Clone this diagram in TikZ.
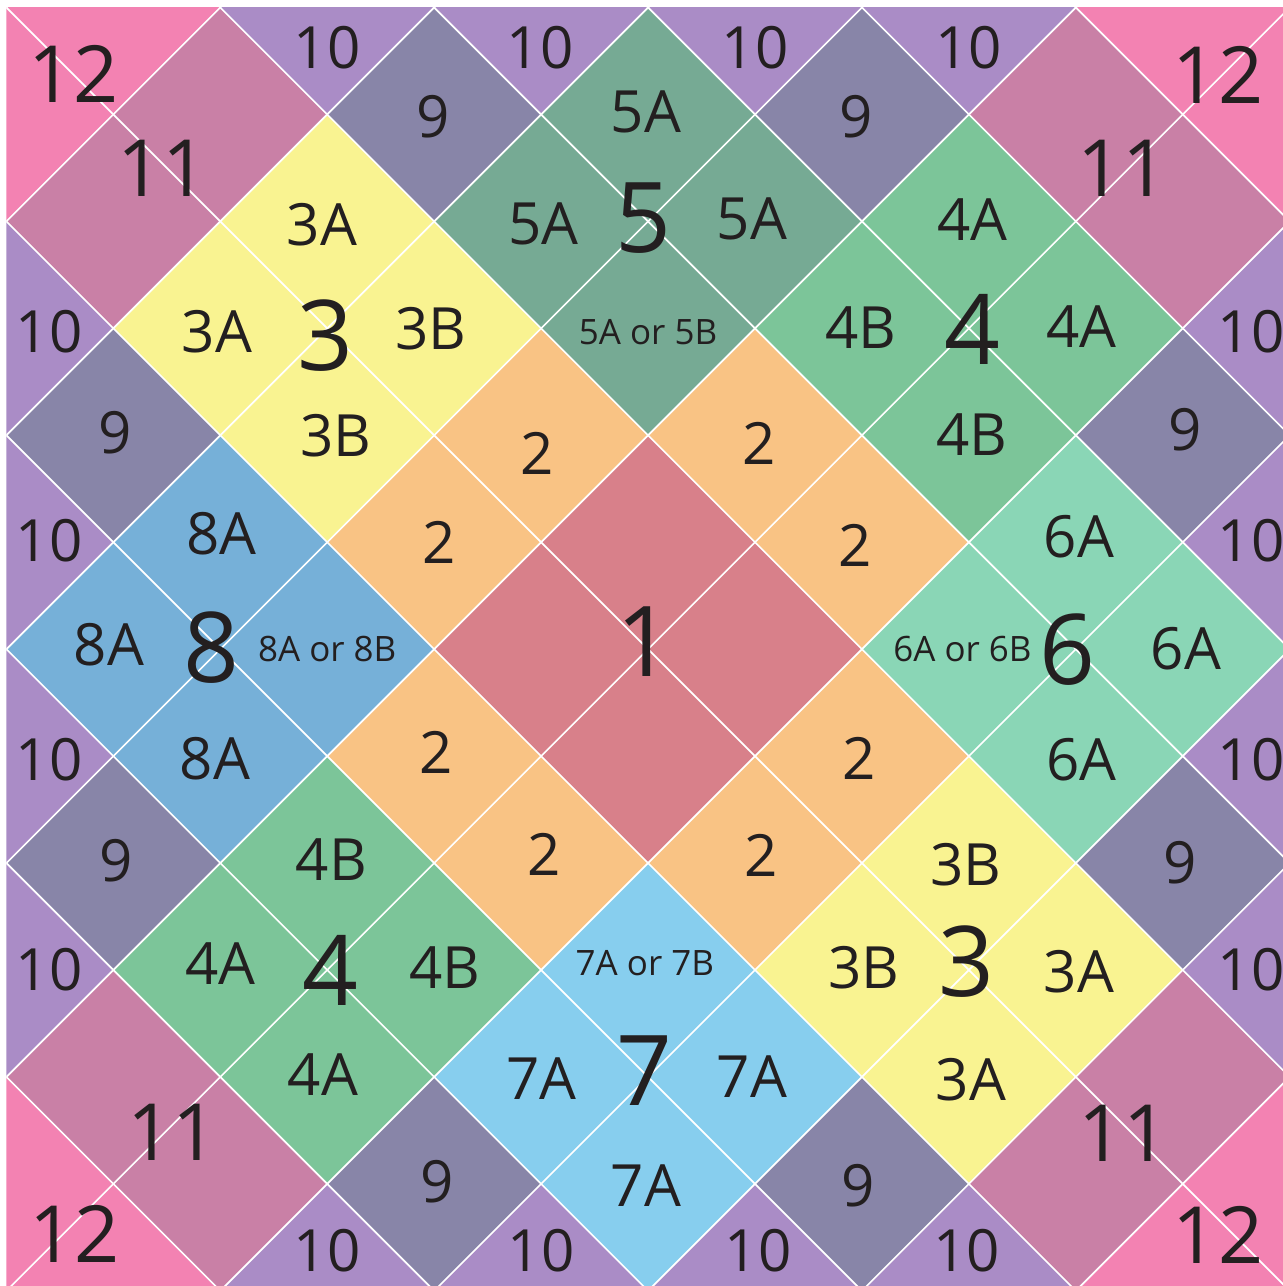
\documentclass[tikz,border=0pt]{standalone}
\usepackage{fontspec}
\setmainfont{Open Sans}

\definecolor{rose1}{HTML}{D8808A}
\definecolor{orange2}{HTML}{F9C384}
\definecolor{yellow3}{HTML}{F9F391}
\definecolor{green4}{HTML}{7CC599}
\definecolor{sage5}{HTML}{76AA94}
\definecolor{mint6}{HTML}{8AD6B6}
\definecolor{sky7}{HTML}{87CEEE}
\definecolor{blue8}{HTML}{76B0D8}
\definecolor{slate9}{HTML}{8885A8}
\definecolor{lilac10}{HTML}{AA8CC6}
\definecolor{mauve11}{HTML}{C980A6}
\definecolor{pink12}{HTML}{F382B2}
\definecolor{ink}{HTML}{231F20}

\begin{document}
\begin{tikzpicture}[x=1cm, y=-1cm,
  tile/.pic={\fill (-1,0) -- (0,-1) -- (1,0) -- (0,1) -- cycle;},
  grid/.style={white, line width=0.45pt},
  every node/.style={inner sep=0pt, text=ink},
  lbl/.style={font=\fontsize{15.5}{18}\selectfont},
  orlbl/.style={font=\fontsize{9.3}{11}\selectfont},
  blocknum/.style={font=\fontsize{26}{30}\selectfont},
  cornernum/.style={font=\fontsize{21}{24}\selectfont}]
  \fill[white] (-6.06,-6.07) rectangle (5.935,5.955);
  \useasboundingbox (-6.06,-6.07) rectangle (5.935,5.955);

  \begin{scope}
    \clip (-6,-6) rectangle (6,6);
    \foreach \p in {(0,-1),(-1,0),(1,0),(0,1)} \pic[fill=rose1] at \p {tile};
    \foreach \p in {(-1,-2),(-2,-1),(1,-2),(2,-1),(-2,1),(-1,2),(2,1),(1,2)} \pic[fill=orange2] at \p {tile};
    \foreach \p in {(-3,-4),(-4,-3),(-2,-3),(-3,-2),(3,2),(2,3),(4,3),(3,4)} \pic[fill=yellow3] at \p {tile};
    \foreach \p in {(3,-4),(2,-3),(4,-3),(3,-2),(-3,2),(-4,3),(-2,3),(-3,4)} \pic[fill=green4] at \p {tile};
    \foreach \p in {(0,-5),(-1,-4),(1,-4),(0,-3)} \pic[fill=sage5] at \p {tile};
    \foreach \p in {(4,-1),(3,0),(5,0),(4,1)} \pic[fill=mint6] at \p {tile};
    \foreach \p in {(0,3),(-1,4),(1,4),(0,5)} \pic[fill=sky7] at \p {tile};
    \foreach \p in {(-4,-1),(-5,0),(-3,0),(-4,1)} \pic[fill=blue8] at \p {tile};
    \foreach \p in {(-2,-5),(2,-5),(-5,-2),(5,-2),(-5,2),(5,2),(-2,5),(2,5)} \pic[fill=slate9] at \p {tile};
    \foreach \p in {(-3,-6),(-1,-6),(1,-6),(3,-6),(-3,6),(-1,6),(1,6),(3,6),
                    (-6,-3),(-6,-1),(-6,1),(-6,3),(6,-3),(6,-1),(6,1),(6,3)} \pic[fill=lilac10] at \p {tile};
    \foreach \p in {(-4,-5),(-5,-4),(4,-5),(5,-4),(-5,4),(-4,5),(5,4),(4,5)} \pic[fill=mauve11] at \p {tile};
    \foreach \p in {(-5,-6),(-6,-5),(5,-6),(6,-5),(-6,5),(-5,6),(6,5),(5,6)} \pic[fill=pink12] at \p {tile};
    \foreach \k in {-12,-10,...,12} {
      \draw[grid] (\k-7,-7) -- (\k+7,7);
      \draw[grid] (\k-7,7) -- (\k+7,-7);
    }
  \end{scope}

  \foreach \x/\y/\t [count=\n] in {
    -3.05/-3.97/3A, -4.03/-2.97/3A, 4.03/3.02/3A, 3.02/4.03/3A,
    -2.03/-3.0/3B, -2.92/-2.0/3B, 2.97/2.02/3B, 2.02/2.98/3B,
    3.03/-4.02/4A, 4.05/-3.02/4A, -4.0/2.94/4A, -3.04/3.98/4A,
    1.99/-3.01/4B, 3.03/-2.01/4B, -2.96/1.97/4B, -1.9/2.98/4B,
    -0.02/-5.02/5A, -0.98/-3.98/5A, 0.97/-4.02/5A,
    -3.99/-1.08/8A, -5.04/-0.04/8A, -4.05/1.02/8A,
    4.03/-1.05/6A, 5.03/0/6A, 4.05/1.03/6A,
    -1.0/4.02/7A, 0.97/4.0/7A, -0.02/5.02/7A,
    -1.04/-1.83/2, 1.04/-1.92/2, -1.95/-1.0/2, 1.94/-0.97/2,
    -1.98/0.97/2, 1.97/1.02/2, -0.97/1.92/2, 1.06/1.93/2,
    -2.01/-4.98/9, 1.95/-4.98/9, -4.98/-2.02/9, 5.02/-2.05/9,
    -4.97/1.98/9, 4.98/2.0/9, -1.97/4.98/9, 1.96/5.02/9,
    -3.0/-5.62/10, -1.01/-5.62/10, 1.0/-5.62/10, 3.0/-5.62/10,
    -3.0/5.62/10, -1.0/5.62/10, 1.03/5.62/10, 2.98/5.62/10,
    -5.6/-2.97/10, -5.6/-1.01/10, -5.6/1.03/10, -5.6/3.0/10,
    5.64/-2.97/10, 5.64/-1.01/10, 5.64/1.03/10, 5.64/3.0/10}
    \node[lbl] (cell\n) at (\x,\y) {\t};

  \foreach \x/\y/\t [count=\n] in {
    0/-2.96/5A or 5B, -3.0/0/8A or 8B, 2.94/0/6A or 6B, -0.03/2.94/7A or 7B}
    \node[orlbl] (choice\n) at (\x,\y) {\t};

  \foreach \x/\y/\t [count=\n] in {
    -0.03/-0.07/1, -3.02/-2.93/3, 2.98/2.92/3, 3.03/-2.99/4, -2.97/3.0/4,
    -0.04/-4.03/5, 3.92/0/6, -0.03/3.94/7, -4.08/-0.01/8}
    \node[blocknum] (block\n) at (\x,\y) {\t};

  \foreach \x/\y/\t [count=\n] in {
    -4.54/-4.5/11, 4.44/-4.5/11, -4.45/4.52/11, 4.45/4.53/11,
    -5.37/-5.38/12, 5.33/-5.37/12, -5.36/5.47/12, 5.33/5.48/12}
    \node[cornernum] (corner\n) at (\x,\y) {\t};
\end{tikzpicture}
\end{document}
